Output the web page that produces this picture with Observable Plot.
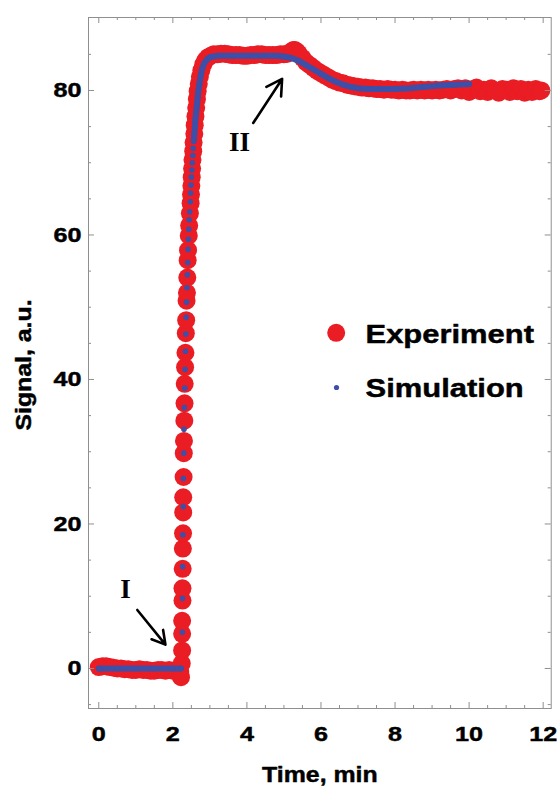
<!DOCTYPE html>
<html>
<head>
<meta charset="utf-8">
<script src="https://cdn.jsdelivr.net/npm/d3@7"></script>
<script src="https://cdn.jsdelivr.net/npm/@observablehq/plot@0.6"></script>
<style>
  html, body { margin: 0; padding: 0; background: #ffffff; }
  #chart { width: 559px; height: 787px; }
</style>
</head>
<body>
<div id="chart"></div>
<script>
// ---------- Data ----------
const expTime = [
  // baseline
  0, 0.1, 0.2, 0.3, 0.4, 0.5, 0.6, 0.7, 0.8, 0.9, 1.0, 1.1, 1.2, 1.3, 1.4, 1.5, 1.6, 1.7, 1.8, 1.9, 2.0, 2.1, 2.2, 2.22,
  // rise
  2.24, 2.25, 2.25, 2.25, 2.26, 2.26, 2.265, 2.27, 2.275, 2.28, 2.28, 2.29, 2.295, 2.30, 2.31,
  2.315, 2.32, 2.33, 2.34, 2.35, 2.36, 2.37, 2.38, 2.39, 2.40, 2.41, 2.43, 2.44, 2.46, 2.48,
  2.49, 2.50, 2.51, 2.52, 2.53, 2.55, 2.56, 2.58, 2.59, 2.61, 2.63, 2.65, 2.67, 2.70, 2.73,
  2.77, 2.82, 2.88, 2.95, 3.02,
  // plateau
  3.1, 3.2, 3.3, 3.4, 3.5, 3.6, 3.7, 3.8, 3.9, 4.0, 4.1, 4.2, 4.3, 4.4, 4.5, 4.6, 4.7, 4.8, 4.9, 5.0,
  // bump and decline
  5.1, 5.2, 5.25, 5.3, 5.35, 5.4, 5.5, 5.6, 5.7, 5.8, 5.9, 6.0, 6.1, 6.2, 6.3, 6.4,
  // tail
  6.5, 6.6, 6.7, 6.8, 6.9, 7.0, 7.1, 7.2, 7.3, 7.4,
  7.5, 7.6, 7.7, 7.8, 7.9, 8.0, 8.1, 8.2, 8.3, 8.4,
  8.5, 8.6, 8.7, 8.8, 8.9, 9.0, 9.1, 9.2, 9.3, 9.4,
  9.5, 9.6, 9.7, 9.8, 9.9, 10.0, 10.1, 10.2, 10.3, 10.4,
  10.5, 10.6, 10.7, 10.8, 10.9, 11.0, 11.1, 11.2, 11.3, 11.4,
  11.5, 11.6, 11.7, 11.8, 11.9, 11.95
];
const expSignal = [
  // baseline
  0.2, 0.3, 0.3, 0.2, 0.1, 0.0, 0.0, -0.1, -0.1, -0.2, -0.2, -0.1, -0.2, -0.2, -0.3, -0.3, -0.2, -0.2, -0.3, -0.2, -0.3, -0.3, -0.5, -1.2,
  // rise
  0.7, 2.5, 4.8, 6.6, 9.4, 11.1, 13.8, 16.6, 18.7, 21.6, 23.7, 26.5, 29.8, 31.5, 34.3,
  36.7, 39.4, 41.7, 43.7, 46.4, 48.2, 50.9, 52.0, 54.1, 56.5, 57.9, 59.9, 61.3, 63.0, 64.4,
  65.6, 66.8, 68.0, 69.2, 70.4, 71.6, 72.8, 74.0, 75.2, 76.4, 77.6, 78.8, 79.9, 80.9, 81.9,
  82.8, 83.6, 84.2, 84.6, 84.8,
  // plateau
  85.0, 85.0, 85.1, 85.1, 85.0, 84.9, 84.9, 84.9, 84.8, 84.8, 84.9, 84.9, 85.0, 85.0, 84.9, 84.9, 84.9, 84.9, 85.0, 85.0,
  // bump and decline
  85.1, 85.4, 85.6, 85.6, 85.4, 85.1, 84.5, 83.9, 83.5, 83.1, 82.7, 82.4, 82.1, 81.8, 81.5, 81.3,
  // tail
  81.1, 81.0, 80.8, 80.7, 80.6, 80.5, 80.4, 80.4, 80.3, 80.3,
  80.2, 80.2, 80.1, 80.2, 80.1, 80.1, 80.0, 80.1, 80.0, 80.0,
  80.1, 80.0, 80.1, 80.0, 80.1, 80.0, 80.1, 80.0, 80.1, 80.2,
  80.0, 80.2, 80.3, 80.0, 80.3, 79.8, 80.2, 80.4, 79.9, 80.1,
  79.8, 80.3, 80.0, 79.7, 80.2, 80.1, 79.8, 80.3, 79.9, 80.2,
  79.7, 80.1, 79.8, 80.2, 79.9, 80.0
];

const simTime = [
  0, 0.5, 1.0, 1.5, 2.0, 2.22,
  2.255, 2.26, 2.265, 2.27, 2.28, 2.285, 2.295, 2.30, 2.31, 2.32, 2.33, 2.34, 2.35, 2.36, 2.37,
  2.38, 2.39, 2.40, 2.41, 2.42, 2.43, 2.44, 2.455, 2.47, 2.48, 2.49, 2.50, 2.515, 2.525, 2.54, 2.55,
  2.565, 2.58, 2.595, 2.61, 2.63, 2.65, 2.67, 2.69, 2.72, 2.75, 2.79, 2.85, 2.92, 3.0, 3.2,
  3.6, 4.0, 4.4, 4.8, 5.0, 5.2, 5.4, 5.6, 5.8, 6.0, 6.2, 6.4, 6.6, 6.8, 7.0,
  7.3, 7.6, 8.0, 8.4, 8.8, 9.2, 9.6, 10.0
];
const simSignal = [
  0, 0, 0, 0, 0, 0,
  5.0, 9.7, 14.1, 18.5, 22.4, 26.3, 29.8, 33.1, 36.1, 38.8, 41.4, 43.9, 46.3, 48.6, 50.7,
  52.7, 54.5, 56.2, 58.0, 59.4, 60.8, 62.1, 63.2, 64.6, 65.8, 66.9, 68.0, 69.0, 70.0, 71.0, 72.0,
  73.0, 74.0, 75.0, 76.0, 77.0, 78.0, 79.0, 80.0, 81.0, 82.0, 83.0, 83.8, 84.3, 84.6, 84.8,
  84.8, 84.8, 84.8, 84.8, 84.7, 84.5, 84.1, 83.5, 82.9, 82.3, 81.7, 81.2, 80.8, 80.5, 80.3,
  80.2, 80.2, 80.2, 80.3, 80.5, 80.7, 80.8, 80.9
];

const xMajorTicks = [0, 2, 4, 6, 8, 10, 12];
const xMinorTicks = [0.5, 1, 1.5, 2.5, 3, 3.5, 4.5, 5, 5.5, 6.5, 7, 7.5, 8.5, 9, 9.5, 10.5, 11, 11.5];
const yMajorTicks = [0, 20, 40, 60, 80];
const yMinorTicks = [-5, 5, 10, 15, 25, 30, 35, 45, 50, 55, 65, 70, 75, 85];

const legendLabels = ["Experiment", "Simulation"];
const xTitle = "Time, min";
const yTitle = "Signal, a.u.";

// annotation arrows (data coordinates: time, signal)
const arrowStartT = [1.04, 4.17];
const arrowStartS = [8.1, 75.5];
const arrowEndT = [1.80, 4.95];
const arrowEndS = [3.3, 81.6];
const noteLabels = ["I", "II"];
const noteT = [0.72, 3.80];
const noteS = [10.9, 72.8];

// ---------- Build tables ----------
const nExp = Math.min(expTime.length, expSignal.length);
const experiment = expTime.slice(0, nExp).map((t, i) => ({t, s: expSignal[i]}));
const nSim = Math.min(simTime.length, simSignal.length);
const simulation = simTime.slice(0, nSim).map((t, i) => ({t, s: simSignal[i]}));
const simLine = simulation.filter(d => d.s < 1 || d.s >= 72.5)
  .map(d => ({...d, part: d.s < 1 ? "base" : "top"}));
const arrows = arrowStartT.map((v, i) => ({x1: v, y1: arrowStartS[i], x2: arrowEndT[i], y2: arrowEndS[i]}));
const notes = noteLabels.map((label, i) => ({label, t: noteT[i], s: noteS[i]}));

const RED = "#ea1c24";
const BLUE = "#3d4fa7";
const FRAME = "#8f8f8f";
const W = 559, H = 787;
const mL = 88, mR = 8.3, mT = 17, mB = 79;
const innerW = W - mL - mR, innerH = H - mT - mB;
const majorLen = 6, minorLen = 3;
const heavy = {fontWeight: "bold", fill: "#000", stroke: "#000", strokeWidth: 0.45};

const plot = Plot.plot({
  width: W,
  height: H,
  marginLeft: mL,
  marginRight: mR,
  marginTop: mT,
  marginBottom: mB,
  x: {domain: [-0.278, 12.217], axis: null},
  y: {domain: [-5.54, 90.1], axis: null},
  style: {fontFamily: "'Liberation Sans', Arial, sans-serif", background: "#ffffff", color: "#000"},
  marks: [
    // data
    Plot.dot(experiment, {x: "t", y: "s", r: 9, fill: RED, stroke: "none"}),
    Plot.line(simLine, {x: "t", y: "s", z: "part", stroke: BLUE, strokeWidth: 6, strokeLinecap: "round", strokeLinejoin: "round"}),
    Plot.dot(simulation, {x: "t", y: "s", r: 2.8, fill: BLUE, stroke: "none"}),

    // frame & ticks (inward, all four sides)
    Plot.frame({stroke: FRAME, strokeWidth: 1}),
    Plot.ruleX(xMajorTicks, {x: d => d, insetTop: innerH - majorLen, stroke: FRAME}),
    Plot.ruleX(xMajorTicks, {x: d => d, insetBottom: innerH - majorLen, stroke: FRAME}),
    Plot.ruleX(xMinorTicks, {x: d => d, insetTop: innerH - minorLen, stroke: FRAME}),
    Plot.ruleX(xMinorTicks, {x: d => d, insetBottom: innerH - minorLen, stroke: FRAME}),
    Plot.ruleY(yMajorTicks, {y: d => d, insetRight: innerW - majorLen, stroke: FRAME}),
    Plot.ruleY(yMajorTicks, {y: d => d, insetLeft: innerW - majorLen, stroke: FRAME}),
    Plot.ruleY(yMinorTicks, {y: d => d, insetRight: innerW - minorLen, stroke: FRAME}),
    Plot.ruleY(yMinorTicks, {y: d => d, insetLeft: innerW - minorLen, stroke: FRAME}),

    // tick labels
    Plot.text(xMajorTicks, {x: d => d, frameAnchor: "bottom", lineAnchor: "middle", dy: 25.5, text: d => String(d),
      fontSize: 21, ...heavy}),
    Plot.text(yMajorTicks, {y: d => d, frameAnchor: "left", lineAnchor: "middle", dx: -7, textAnchor: "end", text: d => String(d),
      fontSize: 21, ...heavy}),

    // axis titles
    Plot.text([xTitle], {frameAnchor: "bottom", lineAnchor: "middle", dy: 66.6, text: d => d,
      fontSize: 22, ...heavy}),
    Plot.text([yTitle], {frameAnchor: "left", lineAnchor: "middle", textAnchor: "middle", dx: -65, dy: 2, rotate: -90,
      text: d => d, fontSize: 22, ...heavy}),

    // legend
    Plot.dot([legendLabels[0]], {frameAnchor: "top-left", dx: 247.7, dy: 315.3, r: 9, fill: RED, stroke: "none"}),
    Plot.dot([legendLabels[1]], {frameAnchor: "top-left", dx: 248, dy: 370, r: 2.6, fill: BLUE, stroke: "none"}),
    Plot.text([legendLabels[0]], {frameAnchor: "top-left", lineAnchor: "middle", dx: 277, dy: 317, textAnchor: "start",
      text: d => d, fontSize: 26, ...heavy}),
    Plot.text([legendLabels[1]], {frameAnchor: "top-left", lineAnchor: "middle", dx: 277, dy: 371, textAnchor: "start",
      text: d => d, fontSize: 26, ...heavy}),

    // annotations
    Plot.arrow(arrows, {x1: "x1", y1: "y1", x2: "x2", y2: "y2", stroke: "#000", strokeWidth: 2.6, headLength: 13}),
    Plot.text(notes, {x: "t", y: "s", text: "label", fontSize: 27, fontWeight: "bold",
      fontFamily: "'Liberation Serif', 'Times New Roman', serif", fill: "#000"})
  ]
});

document.getElementById("chart").append(plot);

// horizontal stretch for the wide bold lettering of the original
const stretch = {"21": 1.2, "22": 1.13, "26": 1.19};
plot.querySelectorAll("g[aria-label='text']").forEach(g => {
  const k = stretch[g.getAttribute("font-size")];
  if (!k) return;
  g.querySelectorAll("text").forEach(el => {
    const len = el.getComputedTextLength();
    el.setAttribute("textLength", (len * k).toFixed(1));
    el.setAttribute("lengthAdjust", "spacingAndGlyphs");
  });
});
</script>
</body>
</html>
